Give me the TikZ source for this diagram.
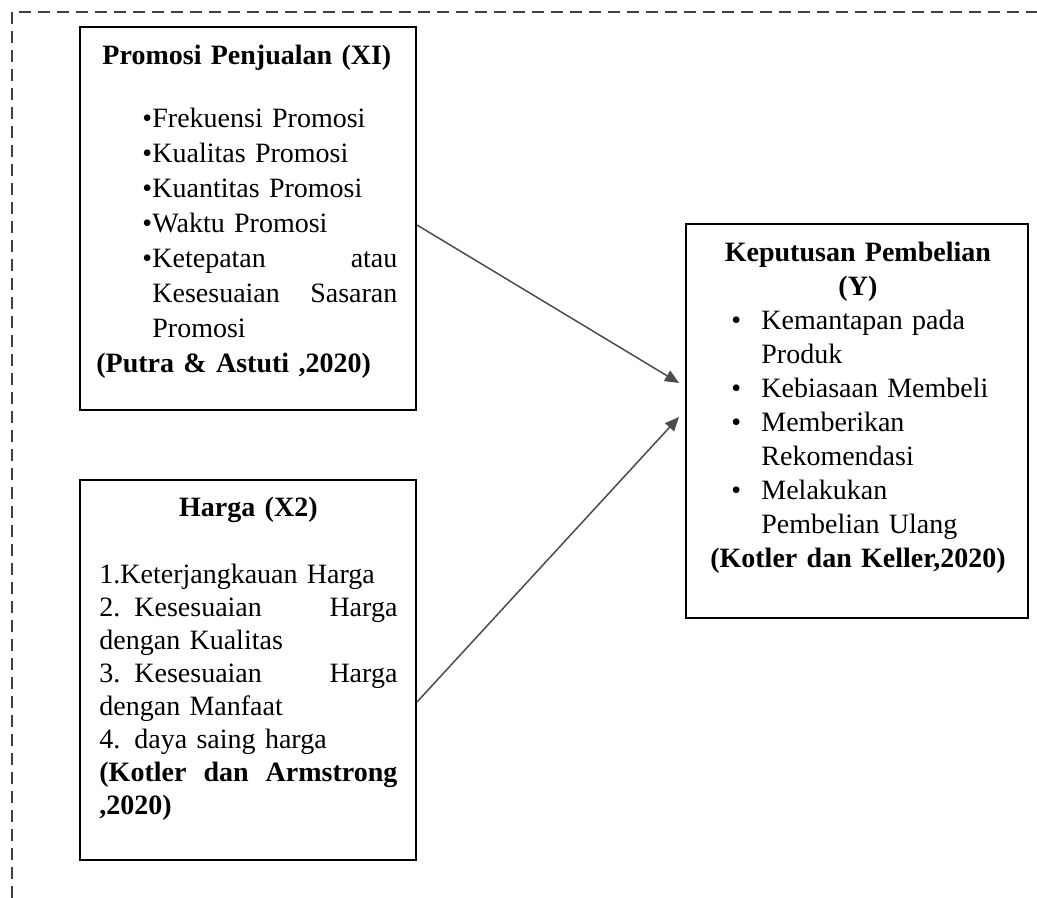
\documentclass[tikz,border=0pt]{standalone}
\usepackage{fontspec}
\setmainfont{Liberation Serif}
\usetikzlibrary{positioning, arrows.meta}
\tikzset{
  >={Triangle[length=7pt, width=6pt]},
  kp box/.style={draw=black, fill=white, line width=1pt, inner sep=0pt},
  kp text/.style={inner sep=0pt, align=left, anchor=base west},
  kp link/.style={draw=black!70, ->, line width=0.75pt},
  kp frame/.style={draw=black!75, line width=1.2pt, dash pattern=on 6pt off 3.5pt},
}
\newcommand{\kpdot}[1]{\makebox[#1][l]{\textbullet}}

\begin{document}
\begin{tikzpicture}[x=0.5pt, y=-0.5pt]
 \useasboundingbox (0,0) rectangle (1037,898);
 % dashed outer frame, open to the right and bottom
 \draw[kp frame] (12,898) -- (12,12) -- (1037,12);
 \node[kp box, minimum width=168pt, minimum height=191.5pt] (promo) at (248,218.5) {};
 \node[kp box, minimum width=168pt, minimum height=190pt, below=34pt of promo] (harga) {};
 \node[kp box, minimum width=171pt, minimum height=196.5pt] (keputusan) at (857,421) {};
 \node[kp text, text width=150.5pt, font=\fontsize{14}{17.5}\selectfont]
   (promotxt) at ([shift={(17,39)}]promo.north west)
   {\makebox[\hsize]{\textbf{Promosi Penjualan (XI)}}\\[14pt]
    \hspace*{23pt}\kpdot{5pt}Frekuensi Promosi\\
    \hspace*{23pt}\kpdot{5pt}Kualitas Promosi\\
    \hspace*{23pt}\kpdot{5pt}Kuantitas Promosi\\
    \hspace*{23pt}\kpdot{5pt}Waktu Promosi\\
    \hspace*{23pt}\kpdot{5pt}Ketepatan\hfill atau\\
    \hspace*{28pt}Kesesuaian\hfill Sasaran\\
    \hspace*{28pt}Promosi\\
    \textbf{(Putra \& Astuti ,2020)}};
 \node[kp text, text width=149pt, font=\fontsize{14}{16.5}\selectfont]
   (hargatxt) at ([shift={(20,37)}]harga.north west)
   {\makebox[\hsize]{\textbf{Harga (X2)}}\\[17pt]
    1.Keterjangkauan Harga\\
    2. Kesesuaian\hfill Harga\\
    dengan Kualitas\\
    3. Kesesuaian\hfill Harga\\
    dengan Manfaat\\
    4. daya saing harga\\
    \textbf{(Kotler\hfill dan\hfill Armstrong}\\
    \textbf{,2020)}};
 \node[kp text, text width=151.5pt, font=\fontsize{14}{17}\selectfont]
   (keputusantxt) at ([shift={(21,38.5)}]keputusan.north west)
   {\makebox[\hsize]{\textbf{Keputusan Pembelian}}\\
    \makebox[\hsize]{\textbf{(Y)}}\\
    \hspace*{12.5pt}\kpdot{15pt}Kemantapan pada\\
    \hspace*{27.5pt}Produk\\
    \hspace*{12.5pt}\kpdot{15pt}Kebiasaan Membeli\\
    \hspace*{12.5pt}\kpdot{15pt}Memberikan\\
    \hspace*{27.5pt}Rekomendasi\\
    \hspace*{12.5pt}\kpdot{15pt}Melakukan\\
    \hspace*{27.5pt}Pembelian Ulang\\
    \makebox[\hsize]{\textbf{(Kotler dan Keller,2020)}}};
 \draw[kp link] ([yshift=-3.25pt]promo.east) -- ([xshift=-3pt, yshift=19pt]keputusan.west);
 \draw[kp link] ([yshift=-16pt]harga.east) -- ([xshift=-3pt, yshift=2pt]keputusan.west);
\end{tikzpicture}
\end{document}
